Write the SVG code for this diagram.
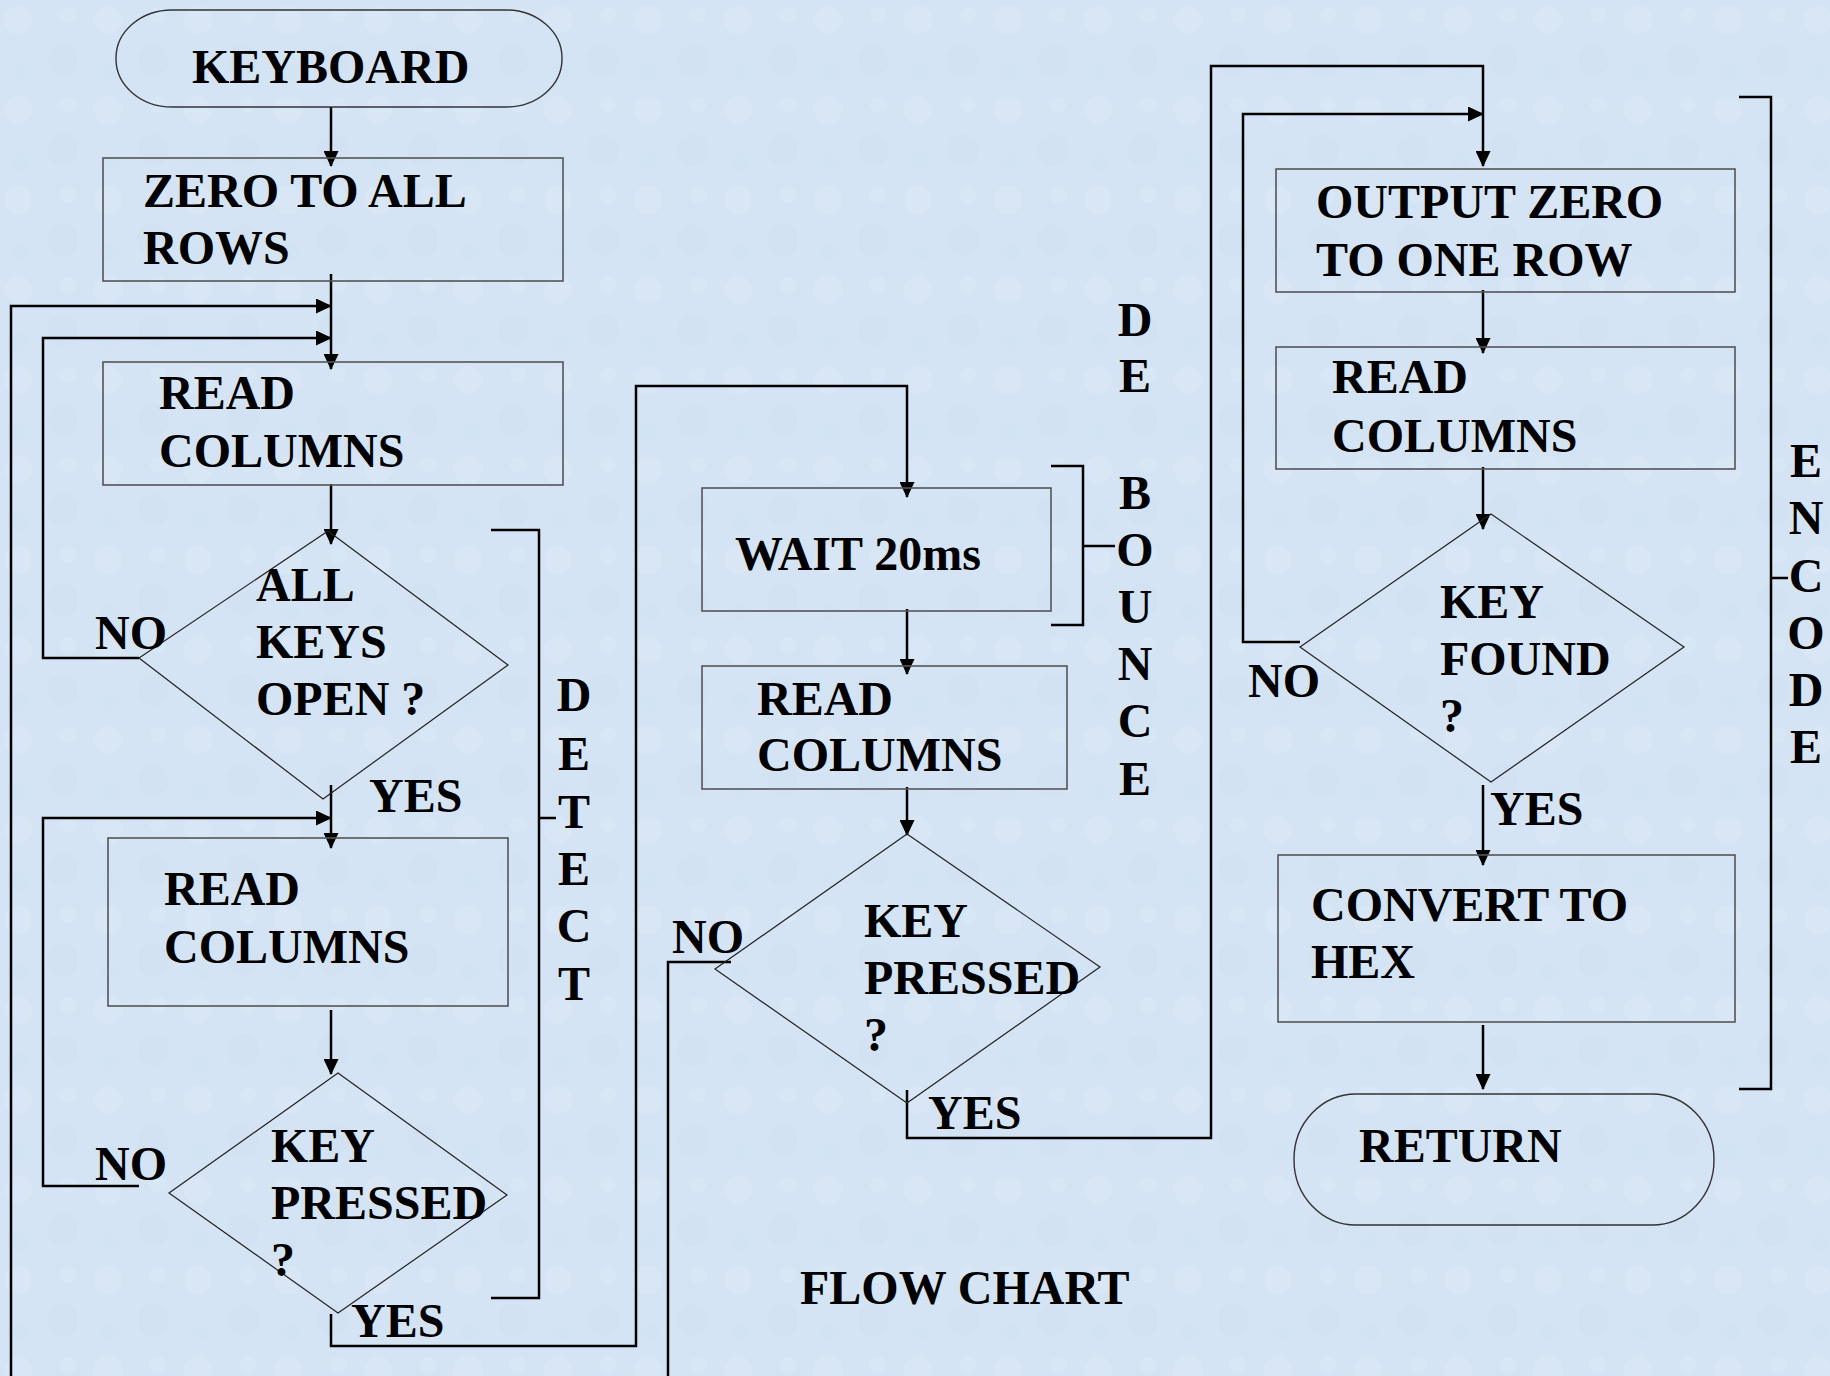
<svg xmlns="http://www.w3.org/2000/svg" width="1830" height="1376" viewBox="0 0 1830 1376">
<defs>
<marker id="ah" markerUnits="userSpaceOnUse" markerWidth="16" markerHeight="15" refX="15" refY="7.5" orient="auto">
<path d="M0,0 L16,7.5 L0,15 Z" fill="#000"/>
</marker>
<pattern id="tex" width="90" height="90" patternUnits="userSpaceOnUse">
<rect width="90" height="90" fill="#d4e4f4"/>
<circle cx="18" cy="20" r="14" fill="#dae8f6" opacity="0.6"/>
<circle cx="63" cy="60" r="16" fill="#cfe0f1" opacity="0.5"/>
<circle cx="68" cy="15" r="8" fill="#dce9f6" opacity="0.5"/>
<circle cx="20" cy="72" r="9" fill="#d0e1f2" opacity="0.5"/>
</pattern>
<style>
.box{fill:none;stroke:#555;stroke-width:1.6}
.dia{fill:none;stroke:#222;stroke-width:1.2}
.term{fill:none;stroke:#333;stroke-width:1.4}
.con{fill:none;stroke:#000;stroke-width:2.5}
.arr{fill:none;stroke:#000;stroke-width:2.5;marker-end:url(#ah)}
text{font-family:"Liberation Serif","Times New Roman",serif;font-weight:bold;font-size:48px;fill:#000}
.v{text-anchor:middle}
</style>
</defs>
<rect width="1830" height="1376" fill="url(#tex)"/>

<g id="connectors">
<path class="arr" d="M331,107 V166"/>
<path class="arr" d="M331,274 V369"/>
<path class="arr" d="M11,1376 V306 H331"/>
<path class="arr" d="M139,658 H43 V338 H331"/>
<path class="arr" d="M331,484 V544"/>
<path class="arr" d="M331,785 V848"/>
<path class="arr" d="M139,1186 H43 V818 H331"/>
<path class="arr" d="M331,1010 V1074"/>
<path class="arr" d="M331,1314 V1346 H636 V386 H907 V497"/>
<path class="arr" d="M907,609 V674"/>
<path class="arr" d="M907,787 V835"/>
<path class="con" d="M731,962 H668 V1376"/>
<path class="arr" d="M907,1090 V1138 H1211 V66 H1483 V166"/>
<path class="arr" d="M1300,642 H1243 V114 H1483"/>
<path class="arr" d="M1483,290 V353"/>
<path class="arr" d="M1483,467 V529"/>
<path class="arr" d="M1483,785 V865"/>
<path class="arr" d="M1483,1025 V1089"/>
<path class="con" d="M491,530 H539 V1298 H491 M539,818 H556"/>
<path class="con" d="M1051,466 H1083 V625 H1051 M1083,546 H1115"/>
<path class="con" d="M1739,97 H1771 V1089 H1739 M1771,578 H1788"/>
</g>

<g id="keyboard">
<rect class="term" x="116" y="10" width="446" height="97" rx="56" ry="48"/>
<text x="192" y="83">KEYBOARD</text>
</g>
<g id="zero-rows">
<rect class="box" x="103" y="158" width="460" height="123"/>
<text x="143" y="207">ZERO TO ALL</text>
<text x="143" y="264">ROWS</text>
</g>
<g id="read1">
<rect class="box" x="103" y="362" width="460" height="123"/>
<text x="159" y="409">READ</text>
<text x="159" y="467">COLUMNS</text>
</g>
<g id="all-open">
<polygon class="dia" points="328,531 508,665 323,799 139,658"/>
<text x="256" y="601">ALL</text>
<text x="256" y="658">KEYS</text>
<text x="256" y="715">OPEN ?</text>
<text x="369" y="812">YES</text>
<text x="95" y="649">NO</text>
</g>
<g id="read2">
<rect class="box" x="108" y="838" width="400" height="168"/>
<text x="164" y="905">READ</text>
<text x="164" y="963">COLUMNS</text>
</g>
<g id="pressed1">
<polygon class="dia" points="338,1073 507,1195 338,1313 169,1193"/>
<text x="271" y="1162">KEY</text>
<text x="271" y="1219">PRESSED</text>
<text x="271" y="1276">?</text>
<text x="351" y="1337">YES</text>
<text x="95" y="1180">NO</text>
</g>
<g id="detect">
<text class="v" x="574" y="711">D</text>
<text class="v" x="574" y="770">E</text>
<text class="v" x="574" y="828">T</text>
<text class="v" x="574" y="885">E</text>
<text class="v" x="574" y="942">C</text>
<text class="v" x="574" y="1000">T</text>
</g>
<g id="wait">
<rect class="box" x="702" y="488" width="349" height="123"/>
<text x="735" y="570">WAIT 20ms</text>
</g>
<g id="read3">
<rect class="box" x="702" y="666" width="365" height="123"/>
<text x="757" y="715">READ</text>
<text x="757" y="771">COLUMNS</text>
</g>
<g id="pressed2">
<polygon class="dia" points="907,834 1100,967 907,1103 715,969"/>
<text x="864" y="937">KEY</text>
<text x="864" y="994">PRESSED</text>
<text x="864" y="1051">?</text>
<text x="928" y="1129">YES</text>
<text x="672" y="953">NO</text>
</g>
<g id="debounce">
<text class="v" x="1135" y="336">D</text>
<text class="v" x="1135" y="392">E</text>
<text class="v" x="1135" y="509">B</text>
<text class="v" x="1135" y="566">O</text>
<text class="v" x="1135" y="623">U</text>
<text class="v" x="1135" y="680">N</text>
<text class="v" x="1135" y="737">C</text>
<text class="v" x="1135" y="795">E</text>
</g>
<g id="output-zero">
<rect class="box" x="1276" y="169" width="459" height="123"/>
<text x="1316" y="218">OUTPUT ZERO</text>
<text x="1316" y="276">TO ONE ROW</text>
</g>
<g id="read4">
<rect class="box" x="1276" y="347" width="459" height="122"/>
<text x="1332" y="393">READ</text>
<text x="1332" y="452">COLUMNS</text>
</g>
<g id="key-found">
<polygon class="dia" points="1491,514 1684,647 1491,782 1300,647"/>
<text x="1440" y="618">KEY</text>
<text x="1440" y="675">FOUND</text>
<text x="1440" y="732">?</text>
<text x="1490" y="825">YES</text>
<text x="1248" y="697">NO</text>
</g>
<g id="convert">
<rect class="box" x="1278" y="855" width="457" height="167"/>
<text x="1311" y="921">CONVERT TO</text>
<text x="1311" y="978">HEX</text>
</g>
<g id="return">
<rect class="term" x="1294" y="1094" width="420" height="131" rx="62" ry="65"/>
<text x="1359" y="1162">RETURN</text>
</g>
<g id="encode">
<text class="v" x="1806" y="477">E</text>
<text class="v" x="1806" y="534">N</text>
<text class="v" x="1806" y="592">C</text>
<text class="v" x="1806" y="649">O</text>
<text class="v" x="1806" y="706">D</text>
<text class="v" x="1806" y="763">E</text>
</g>
<g id="title">
<text x="800" y="1304">FLOW CHART</text>
</g>
</svg>
